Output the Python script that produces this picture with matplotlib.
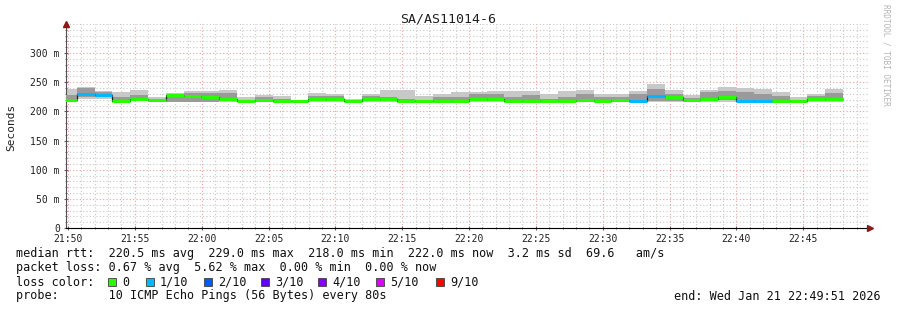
import numpy as np
import matplotlib.pyplot as plt
from matplotlib.patches import Rectangle
from matplotlib.ticker import MultipleLocator, FixedLocator

W, H = 897, 310

# 80 s steps, seconds after 21:49:51 (start of graph)
step_s = 80
first_edge = -32

# smoke (outer / inner band), median and loss per step, values in ms
outer_lo = [217, 222, 222, 217, 218, 218, 216, 216, 216, 216, 216, 218, 217, 216, 217,
            217, 217, 217, 217, 217, 217, 217, 217, 217, 217, 217, 217, 217, 217, 217,
            217, 217, 216, 216, 216, 217, 216, 217, 216, 216, 217, 217, 217, 217]
outer_hi = [238, 242, 235, 234, 237, 224.6, 231, 235, 235, 237, 224.6, 228, 227, 218.5, 231,
            229.7, 222, 229.7, 237, 237, 225.7, 229.7, 233, 233, 235, 235, 235, 229.7, 235, 237,
            229.7, 229.7, 235, 247, 237, 228.6, 237, 241.7, 240, 238, 233, 224, 229.7, 238]
inner_lo = [220, 225, 224, 218, 219, 219, 216, 217, 217, 218, 217, 218, 217, 217, 218,
            218, 217, 218, 218, 217, 217, 217, 218, 218, 218, 217, 218, 217, 217, 218,
            217, 217, 217, 218, 218, 218, 218, 219, 218, 218, 217, 217, 218, 218]
inner_hi = [228.6, 240, 233, 224, 228.6, 221, 229, 231, 231, 232, 220, 224, 222, 218, 227,
            226, 219, 226, 225, 222, 220, 224, 224.6, 230, 230, 224, 228.6, 222, 225, 230,
            224, 225, 230, 238, 230, 223, 233, 235, 233, 230, 226, 220, 226, 232]
median = [220, 229.5, 228.5, 218.5, 221, 220, 229, 226, 224, 222, 218, 220, 218, 218, 222,
          221, 218, 221, 220.5, 218, 218, 218, 218, 222, 221, 218, 218, 218, 218, 220,
          218, 219.5, 218, 226.5, 224.4, 220, 222, 224, 218, 218, 218, 218, 222, 222]
loss = [0, 1, 1, 0, 0, 0, 0, 0, 0, 0, 0, 0, 0, 0, 0,
        0, 0, 0, 0, 0, 0, 0, 0, 0, 0, 0, 0, 0, 0, 0,
        0, 0, 1, 1, 0, 0, 0, 0, 1, 1, 0, 0, 0, 0]

loss_names = ['0', '1/10', '2/10', '3/10', '4/10', '5/10', '9/10']
loss_colors = ['#26ff00', '#00b8ff', '#0059ff', '#5e00ff', '#7e00ff', '#dd00ff', '#ff0000']

x_labels = ['21:50', '21:55', '22:00', '22:05', '22:10', '22:15',
            '22:20', '22:25', '22:30', '22:35', '22:40', '22:45']
y_ticks = [0, 50, 100, 150, 200, 250, 300]
y_labels = ['0', '50 m', '100 m', '150 m', '200 m', '250 m', '300 m']

title = 'SA/AS11014-6'
stats1 = 'median rtt:  220.5 ms avg  229.0 ms max  218.0 ms min  222.0 ms now  3.2 ms sd  69.6   am/s'
stats2 = 'packet loss: 0.67 % avg  5.62 % max  0.00 % min  0.00 % now'
probe = 'probe:       10 ICMP Echo Pings (56 Bytes) every 80s'
end_txt = 'end: Wed Jan 21 22:49:51 2026'

mono = 'DejaVu Sans Mono'

def fx(px):
    return px / W

def fy(py):
    return 1 - py / H

fig = plt.figure(figsize=(W / 100, H / 100), dpi=100)
fig.patch.set_facecolor('white')
ax = fig.add_axes([fx(66), fy(228), (868 - 66) / W, (228 - 24) / H])

edges = first_edge + step_s * np.arange(len(median) + 1)
ax.stairs(outer_hi, edges, baseline=outer_lo, fill=True, color='#c8c8c8', lw=0, zorder=2)
ax.stairs(inner_hi, edges, baseline=inner_lo, fill=True, color='#9a9a9a', lw=0, zorder=3)
ax.stairs(median, edges, baseline=None, color='#202020', lw=0.9, zorder=4)
seg_colors = [loss_colors[l] for l in loss]
ax.hlines(median, edges[:-1], edges[1:], colors=seg_colors, lw=2.2, zorder=5)

ax.set_xlim(0, 3600)
ax.set_ylim(0, 350)

ax.xaxis.set_major_locator(FixedLocator([9 + 300 * i for i in range(len(x_labels))]))
ax.set_xticklabels(x_labels)
ax.xaxis.set_minor_locator(FixedLocator([9 + 60 * i for i in range(60)]))
ax.yaxis.set_major_locator(FixedLocator(y_ticks))
ax.set_yticklabels(y_labels)
ax.yaxis.set_minor_locator(MultipleLocator(10))

ax.grid(which='minor', color='#c8c8c8', lw=0.8, linestyle=(0, (1, 2)), zorder=0)
ax.grid(which='major', color='#f0a0a0', lw=0.8, linestyle=(0, (1, 2)), zorder=1)
ax.set_axisbelow(True)

for s in ['top', 'right']:
    ax.spines[s].set_visible(False)
ax.spines['left'].set_color('#505050')
ax.spines['bottom'].set_color('#000000')
ax.tick_params(which='both', direction='inout', color='#606060')
ax.tick_params(which='major', length=3, labelsize=7, pad=3)
ax.tick_params(which='minor', length=2)
for lab in ax.get_xticklabels() + ax.get_yticklabels():
    lab.set_family(mono)
    lab.set_color('#202020')

# axis arrows
ax.plot([0], [1], marker='^', color='#8b1a1a', ms=4, transform=ax.transAxes, clip_on=False, zorder=6)
ax.plot([1.003], [0], marker='>', color='#8b1a1a', ms=4, transform=ax.transAxes, clip_on=False, zorder=6)

fig.text(fx(448), fy(19), title, ha='center', va='center', family=mono, fontsize=9.5, color='#202020')
fig.text(fx(11), fy(127), 'Seconds', rotation=90, ha='center', va='center', family=mono, fontsize=8, color='#202020')
fig.text(fx(886), fy(4), 'RRDTOOL / TOBI OETIKER', rotation=270, ha='center', va='top',
         family=mono, fontsize=5.6, color='#b4b4b4')

fs = 8.5
fig.text(fx(16), fy(254), stats1, ha='left', va='center', family=mono, fontsize=fs, color='#101010')
fig.text(fx(16), fy(268), stats2, ha='left', va='center', family=mono, fontsize=fs, color='#101010')
fig.text(fx(16), fy(282), 'loss color:', ha='left', va='center', family=mono, fontsize=fs, color='#101010')
box_x = [108, 146, 204, 261, 318, 376, 436]
for bx, name, col in zip(box_x, loss_names, loss_colors):
    fig.patches.append(Rectangle((fx(bx), fy(286)), 8 / W, 8 / H, transform=fig.transFigure,
                                 facecolor=col, edgecolor='#404040', lw=0.6))
    fig.text(fx(bx + 14), fy(282), name, ha='left', va='center', family=mono, fontsize=fs, color='#101010')
fig.text(fx(16), fy(296), probe, ha='left', va='center', family=mono, fontsize=fs, color='#101010')
fig.text(fx(881), fy(296), end_txt, ha='right', va='center', family=mono, fontsize=fs, color='#101010')

fig.savefig('out.png', dpi=100)
